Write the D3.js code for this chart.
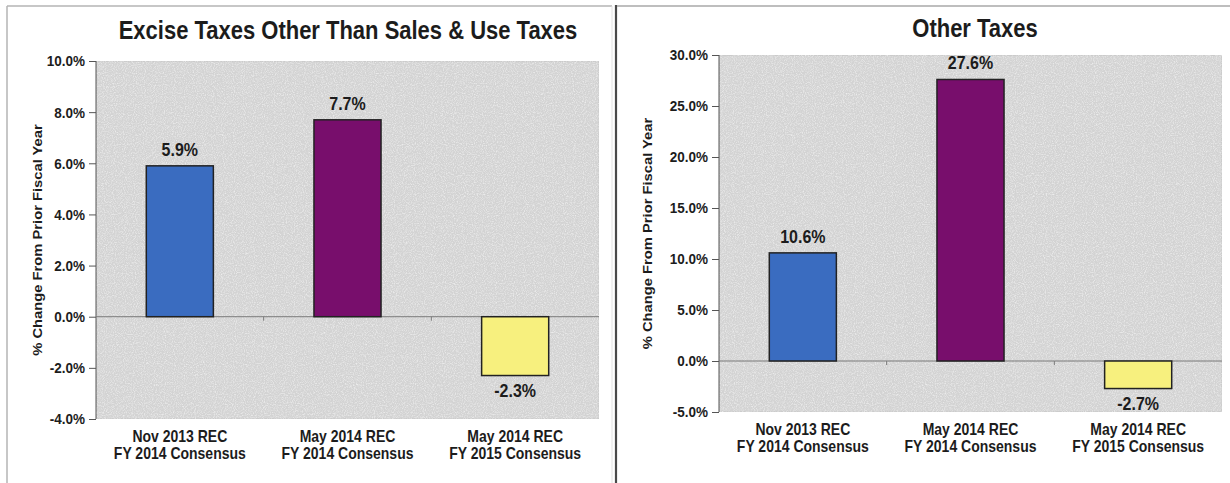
<!DOCTYPE html>
<html>
<head>
<meta charset="utf-8">
<script src="https://cdn.jsdelivr.net/npm/d3@7"></script>
<style>
  body { margin: 0; background: #fff; }
  svg { display: block; font-family: Arial, "Liberation Sans", sans-serif; }
  .axis text { font-size: 13.5px; font-weight: bold; fill: #1c1c1c; }
  .axis path { display: none; }
  .axis line { stroke: #555; }
</style>
</head>
<body>
<svg id="chart" width="1230" height="483"></svg>
<script>
// chart data
const categories = [
  ['Nov 2013 REC', 'FY 2014 Consensus'],
  ['May 2014 REC', 'FY 2014 Consensus'],
  ['May 2014 REC', 'FY 2015 Consensus']
];
const exciseValues = [5.9, 7.7, -2.3];
const otherValues = [10.6, 27.6, -2.7];
const exciseTicks = [-4, -2, 0, 2, 4, 6, 8, 10];
const otherTicks = [-5, 0, 5, 10, 15, 20, 25, 30];

const barColors = ['#3a6cc0', '#780e6c', '#f7f07e'];

//The scan is a little taller than it is wide, so text gets stretched vertically.
const stretch = 'scale(1,1.15)';

const svg = d3.select('#chart');

// light speckle texture for the scanned grey plot background
const defs = svg.append('defs');
const f = defs.append('filter').attr('id', 'speckle').attr('x', 0).attr('y', 0).attr('width', 1).attr('height', 1);
f.append('feTurbulence').attr('type', 'fractalNoise').attr('baseFrequency', 0.9).attr('numOctaves', 2).attr('result', 'noise');
f.append('feColorMatrix').attr('in', 'noise').attr('type', 'matrix')
  .attr('values', '0 0 0 0 1  0 0 0 0 1  0 0 0 0 1  0 0 0 1.2 -0.5').attr('result', 'dots');
f.append('feComposite').attr('in', 'dots').attr('in2', 'SourceGraphic').attr('operator', 'in').attr('result', 'd2');
f.append('feMerge').call(m => { m.append('feMergeNode').attr('in', 'SourceGraphic'); m.append('feMergeNode').attr('in', 'd2'); });

//Outer frames of the two panels.
svg.append('line').attr('x1', 7).attr('x2', 612).attr('y1', 6).attr('y2', 6).attr('stroke', '#b4b4b4').attr('stroke-width', 1.5);
svg.append('line').attr('x1', 7).attr('x2', 7).attr('y1', 6).attr('y2', 483).attr('stroke', '#b4b4b4').attr('stroke-width', 1.5);
svg.append('line').attr('x1', 612).attr('x2', 612).attr('y1', 6).attr('y2', 483).attr('stroke', '#e2e2e2').attr('stroke-width', 1);
svg.append('line').attr('x1', 616).attr('x2', 616).attr('y1', 5).attr('y2', 483).attr('stroke', '#4a4a4a').attr('stroke-width', 2.2);
svg.append('line').attr('x1', 617).attr('x2', 1230).attr('y1', 6).attr('y2', 6).attr('stroke', '#a8a8a8').attr('stroke-width', 1.5);

function drawChart(cfg) {
  const g = svg.append('g');

  const x = d3.scaleBand()
    .domain(d3.range(categories.length))
    .range([cfg.left, cfg.right])
    .paddingInner(0.6)
    .paddingOuter(0.3);

  const y = d3.scaleLinear()
    .domain(d3.extent(cfg.ticks))
    .range([cfg.bottom, cfg.top]);

  //Plot background.
  g.append('rect')
    .attr('x', cfg.left).attr('y', cfg.top)
    .attr('width', cfg.right - cfg.left).attr('height', cfg.bottom - cfg.top)
    .attr('fill', '#d3d3d3')
    .attr('stroke', '#c4c4c4')
    .attr('filter', 'url(#speckle)');

  //Vertical axis with the percent ticks.
  g.append('g').attr('class', 'axis')
    .attr('transform', 'translate(' + cfg.left + ',0)')
    .call(d3.axisLeft(y).tickValues(cfg.ticks).tickSize(7).tickSizeOuter(0).tickPadding(4)
      .tickFormat(d => d.toFixed(1) + '%'))
    .selectAll('text').attr('transform', stretch);
  g.append('line')
    .attr('x1', cfg.left).attr('x2', cfg.left)
    .attr('y1', cfg.top).attr('y2', cfg.bottom)
    .attr('stroke', '#555');

  //Zero line with small tick marks between the categories.
  g.append('line')
    .attr('x1', cfg.left).attr('x2', cfg.right)
    .attr('y1', y(0)).attr('y2', y(0))
    .attr('stroke', '#7a7a7a');
  g.selectAll('.cat-tick')
    .data(d3.range(1, categories.length))
    .join('line')
    .attr('x1', i => x(i) - x.step() * x.paddingInner() / 2)
    .attr('x2', i => x(i) - x.step() * x.paddingInner() / 2)
    .attr('y1', y(0)).attr('y2', y(0) + 4)
    .attr('stroke', '#7a7a7a');

  //Bars.
  g.selectAll('.bar')
    .data(cfg.values)
    .join('rect')
    .attr('x', (d, i) => x(i))
    .attr('y', d => y(Math.max(0, d)))
    .attr('width', x.bandwidth())
    .attr('height', d => Math.abs(y(d) - y(0)))
    .attr('fill', (d, i) => barColors[i])
    .attr('stroke', '#222')
    .attr('stroke-width', 1.5);

  //Value labels above (or below) each bar.
  g.selectAll('.val')
    .data(cfg.values)
    .join('text')
    .attr('transform', (d, i) => 'translate(' + (x(i) + x.bandwidth() / 2) + ',' + (d >= 0 ? y(d) - 10 : y(d) + 21) + ')' + stretch)
    .attr('text-anchor', 'middle')
    .style('font-size', '16px')
    .style('font-weight', 'bold')
    .attr('fill', '#1c1c1c')
    .text(d => d.toFixed(1) + '%');

  //Category labels, two lines each.
  g.selectAll('.cat')
    .data(categories)
    .join('text')
    .attr('transform', (d, i) => 'translate(' + (x(i) + x.bandwidth() / 2) + ',' + (cfg.bottom + 23) + ')' + stretch)
    .attr('text-anchor', 'middle')
    .style('font-size', '14px')
    .style('font-weight', 'bold')
    .attr('fill', '#1c1c1c')
    .selectAll('tspan')
    .data(d => d)
    .join('tspan')
    .attr('x', 0)
    .attr('y', (d, j) => j * 15)
    .text(d => d);

  //Title.
  g.append('text')
    .attr('transform', 'translate(' + cfg.titleX + ',' + cfg.titleY + ')' + stretch)
    .attr('text-anchor', 'middle')
    .style('font-size', '22px')
    .style('font-weight', 'bold')
    .attr('fill', '#1c1c1c')
    .text(cfg.title);

  //Y axis label (stretched along its length, which is vertical on screen).
  g.append('text')
    .attr('transform', 'translate(' + cfg.labelX + ',' + (cfg.top + cfg.bottom) / 2 + ')scale(1,1.18)rotate(-90)')
    .attr('text-anchor', 'middle')
    .style('font-size', '12.5px')
    .style('font-weight', 'bold')
    .attr('fill', '#1c1c1c')
    .text('% Change From Prior Fiscal Year');
}

drawChart({
  title: 'Excise Taxes Other Than Sales & Use Taxes',
  values: exciseValues, ticks: exciseTicks,
  left: 96, right: 599, top: 61, bottom: 419,
  titleX: 348, titleY: 39, labelX: 42
});

drawChart({
  title: 'Other Taxes',
  values: otherValues, ticks: otherTicks,
  left: 719, right: 1222, top: 55, bottom: 412,
  titleX: 975, titleY: 37, labelX: 652
});
</script>
</body>
</html>
